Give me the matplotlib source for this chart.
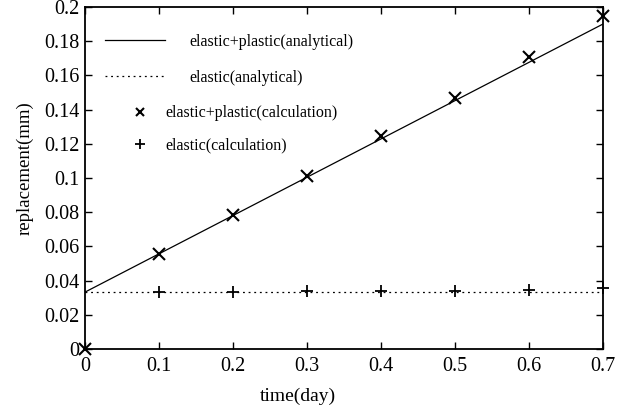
import matplotlib.pyplot as plt

plt.rcParams["font.family"] = ["Liberation Serif", "DejaVu Serif"]

# time (day) and displacement (mm)
t_calc = [0.0, 0.1, 0.2, 0.3, 0.4, 0.5, 0.6, 0.7]
ep_calc = [0.0, 0.0556, 0.0784, 0.101, 0.1246, 0.147, 0.171, 0.195]
t_el = [0.1, 0.2, 0.3, 0.4, 0.5, 0.6, 0.7]
el_calc = [0.0333, 0.0336, 0.0338, 0.0338, 0.0340, 0.0343, 0.0355]

t_line = [0.0, 0.7]
ep_analytical = [0.0333, 0.190]
el_analytical = [0.0333, 0.0333]

x_ticks = [0, 0.1, 0.2, 0.3, 0.4, 0.5, 0.6, 0.7]
x_labels = ["0", "0.1", "0.2", "0.3", "0.4", "0.5", "0.6", "0.7"]
y_ticks = [0, 0.02, 0.04, 0.06, 0.08, 0.1, 0.12, 0.14, 0.16, 0.18, 0.2]
y_labels = ["0", "0.02", "0.04", "0.06", "0.08", "0.1", "0.12", "0.14",
            "0.16", "0.18", "0.2"]

fig = plt.figure(figsize=(6.26, 4.13), dpi=100)
ax = fig.add_axes([0.136, 0.155, 0.827, 0.828])

l1, = ax.plot(t_line, ep_analytical, color="black", lw=0.9)
l2, = ax.plot(t_line, el_analytical, color="black", lw=0.9, ls=(0, (1.5, 3)))
m1, = ax.plot(t_calc, ep_calc, ls="none", marker="x", ms=8, mew=1.5, color="black",
              clip_on=False)
m2, = ax.plot(t_el, el_calc, ls="none", marker="+", ms=9, mew=1.3, color="black",
              clip_on=False)

ax.set_xlim(0, 0.7)
ax.set_ylim(0, 0.2)
ax.set_xticks(x_ticks)
ax.set_xticklabels(x_labels)
ax.set_yticks(y_ticks)
ax.set_yticklabels(y_labels)
ax.tick_params(direction="in", top=True, right=True, length=5, width=1,
               labelsize=14.5)
ax.tick_params(axis="x", pad=6)
ax.tick_params(axis="y", pad=4)
for s in ax.spines.values():
    s.set_linewidth(1.3)

ax.set_xlabel("time(day)", fontsize=14)
ax.set_ylabel("replacement(mm)", fontsize=13.5)
ax.xaxis.set_label_coords(0.411, -0.114)
ax.yaxis.set_label_coords(-0.100, 0.529)

leg1 = ax.legend([l1, l2], ["elastic+plastic(analytical)", "elastic(analytical)"],
                 loc="upper left", bbox_to_anchor=(0.0386, 0.921), frameon=False,
                 fontsize=11.5, handlelength=3.75, handletextpad=1.5,
                 labelspacing=1.22, borderaxespad=0, borderpad=0)
ax.add_artist(leg1)
ax.legend([m1, m2], ["elastic+plastic(calculation)", "elastic(calculation)"],
          loc="upper left", bbox_to_anchor=(0.091, 0.713), frameon=False,
          fontsize=11.5, handlelength=1.0, handletextpad=1.05, labelspacing=1.03,
          borderaxespad=0, borderpad=0, markerscale=0.8)

fig.savefig("out.png", dpi=100)
